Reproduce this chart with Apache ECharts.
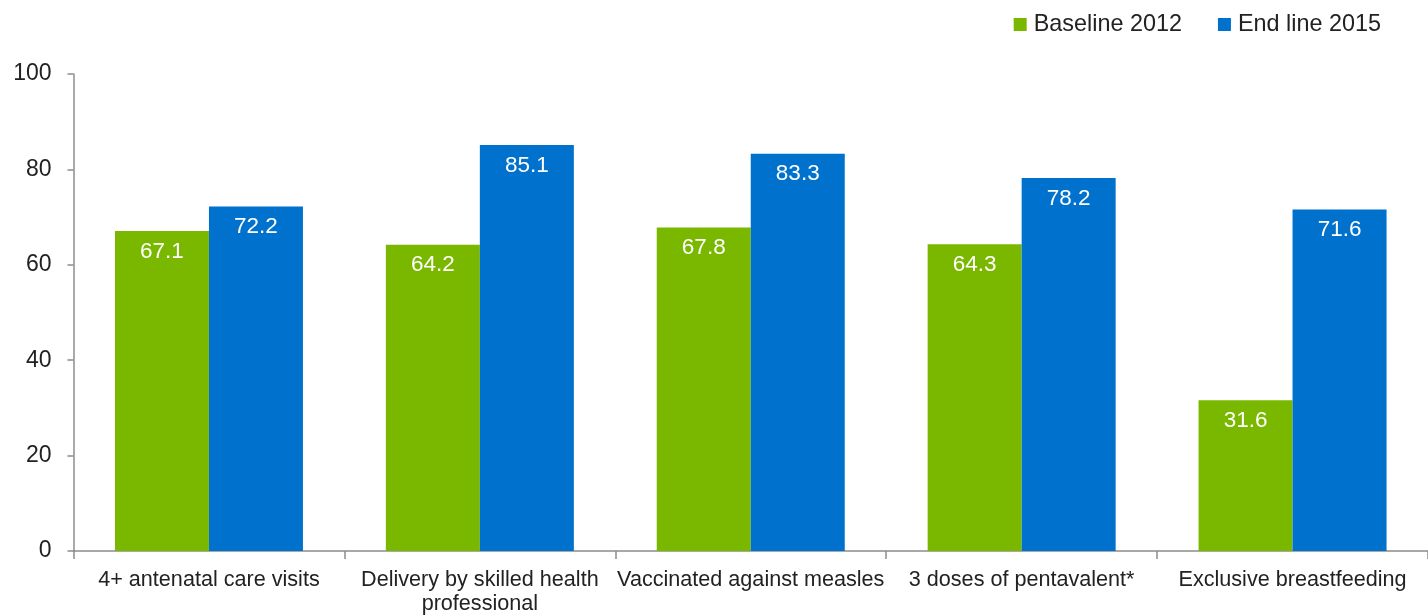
<!DOCTYPE html>
<html>
<head>
<meta charset="utf-8">
<script src="https://cdn.jsdelivr.net/npm/echarts@6/dist/echarts.min.js"></script>
<style>
  html, body { margin: 0; padding: 0; background: #fff; }
  #chart { width: 1428px; height: 616px; }
</style>
</head>
<body>
<div id="chart"></div>
<script>
// Indicator categories along the x axis
const categories = [
  '4+ antenatal care visits',
  'Delivery by skilled health\nprofessional',
  'Vaccinated against measles',
  '3 doses of pentavalent*',
  'Exclusive breastfeeding'
];
// Survey results (%)
const baseline2012 = [67.1, 64.2, 67.8, 64.3, 31.6];
const endline2015 = [72.2, 85.1, 83.3, 78.2, 71.6];
const seriesNames = ['Baseline 2012', 'End line 2015'];

const FONT = '"Liberation Sans", Arial, sans-serif';
const TEXT = '#222222';
const AXIS = '#8c8c8c';

const chart = echarts.init(document.getElementById('chart'), null, { renderer: 'canvas' });

const valueLabel = {
  show: true,
  position: 'insideTop',
  distance: 9,
  color: '#ffffff',
  fontFamily: FONT,
  fontSize: 22.5,
  formatter: p => p.value.toFixed(1)
};

chart.setOption({
  animation: false,
  textStyle: { fontFamily: FONT },
  legend: {
    right: 42,
    top: 8,
    itemWidth: 13,
    itemHeight: 13,
    itemGap: 36,
    icon: 'rect',
    textStyle: { fontFamily: FONT, fontSize: 23.4, color: TEXT, padding: [0, 0, 0, 2] },
    data: seriesNames
  },
  grid: { left: 73.5, right: 0, top: 74, bottom: 63, containLabel: false },
  xAxis: {
    type: 'category',
    data: categories,
    axisLine: { show: true, lineStyle: { color: AXIS, width: 1.5 } },
    axisTick: { show: true, length: 8, alignWithLabel: false, lineStyle: { color: AXIS, width: 1.5 } },
    axisLabel: { interval: 0, color: TEXT, fontFamily: FONT, fontSize: 21.6, margin: 17, lineHeight: 24 }
  },
  yAxis: {
    type: 'value',
    min: 0,
    max: 100,
    interval: 20,
    splitLine: { show: false },
    axisLine: { show: true, lineStyle: { color: AXIS, width: 1.5 } },
    axisTick: { show: true, length: 6, lineStyle: { color: AXIS, width: 1.5 } },
    axisLabel: { color: TEXT, fontFamily: FONT, fontSize: 23, margin: 22 }
  },
  series: [
    {
      name: seriesNames[0],
      type: 'bar',
      data: baseline2012,
      barGap: '0%',
      barCategoryGap: '30.6%',
      itemStyle: { color: '#7ab800' },
      label: valueLabel
    },
    {
      name: seriesNames[1],
      type: 'bar',
      data: endline2015,
      barGap: '0%',
      barCategoryGap: '30.6%',
      itemStyle: { color: '#0072ce' },
      label: valueLabel
    }
  ]
});
</script>
</body>
</html>
